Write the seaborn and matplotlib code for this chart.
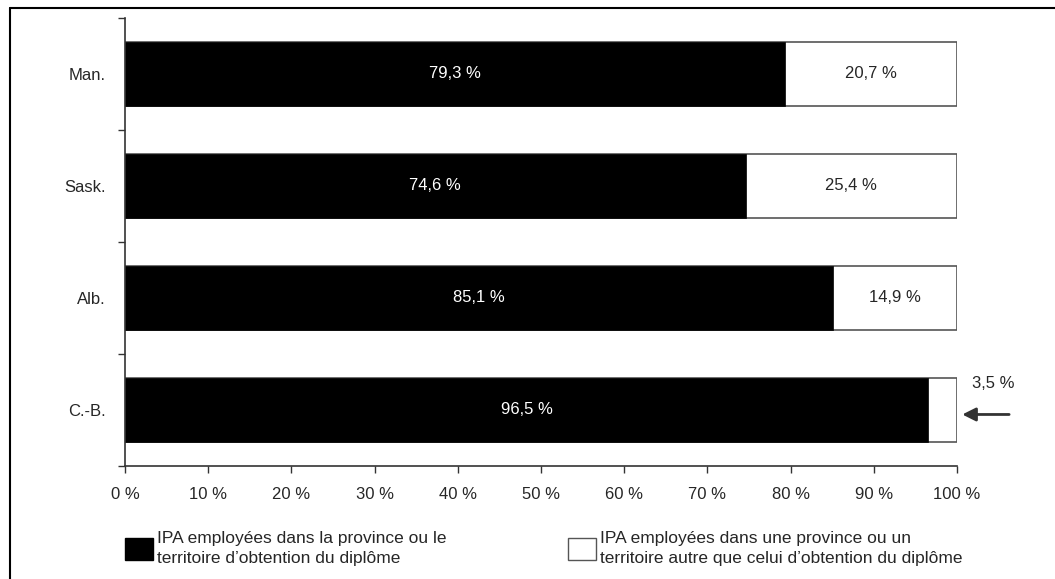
import matplotlib
matplotlib.use("Agg")
import matplotlib.pyplot as plt
import seaborn as sns
import pandas as pd
from matplotlib.patches import Patch
from matplotlib.lines import Line2D

provinces = ["Man.", "Sask.", "Alb.", "C.-B."]
same_province = [79.3, 74.6, 85.1, 96.5]
other_province = [20.7, 25.4, 14.9, 3.5]
xtick_values = [0, 10, 20, 30, 40, 50, 60, 70, 80, 90, 100]
legend_labels = ["IPA employées dans la province ou le\nterritoire d’obtention du diplôme",
                 "IPA employées dans une province ou un\nterritoire autre que celui d’obtention du diplôme"]

def fr(v):
    return f"{v:.1f}".replace(".", ",") + " %"

sns.set_theme(style="white")
plt.rcParams["font.family"] = ["Liberation Sans", "DejaVu Sans"]
plt.rcParams["font.size"] = 12

df = pd.DataFrame({"prov": provinces, "same": same_province, "other": other_province})
df["total"] = df["same"] + df["other"]

fig = plt.figure(figsize=(10.55, 5.79), dpi=100)
ax = fig.add_axes([125/1055, 1-466/579, 832/1055, 448/579])

sns.barplot(data=df, y="prov", x="total", orient="h", color="white", edgecolor="#555555",
            linewidth=1.2, width=0.58, ax=ax, saturation=1)
sns.barplot(data=df, y="prov", x="same", orient="h", color="black", edgecolor="black",
            linewidth=0.5, width=0.58, ax=ax, saturation=1)

txt = "#262626"
for i, (s, o) in enumerate(zip(same_province, other_province)):
    ax.text(s/2, i, fr(s), color="white", ha="center", va="center", fontsize=12)
    if o > 5:
        ax.text(s + o/2, i, fr(o), color=txt, ha="center", va="center", fontsize=12)
    else:
        ax.annotate("", xy=(100.3, i + 0.04), xytext=(106.6, i + 0.04),
                    arrowprops=dict(arrowstyle="-|>", color="#333333", lw=2,
                                    mutation_scale=20), annotation_clip=False)
        ax.text(104.3, i - 0.24, fr(o), color=txt, ha="center", va="center",
                fontsize=12, clip_on=False)

ax.set_xlim(0, 100)
ax.set_ylim(3.5, -0.5)
ax.set_xticks(xtick_values)
ax.set_xticklabels([f"{v} %" for v in xtick_values], fontsize=12, color=txt)
ax.set_xlabel("")
ax.set_ylabel("")
ax.set_yticks(range(len(provinces)))
ax.set_yticklabels(provinces, fontsize=12, color=txt)
ax.set_yticks([-0.5, 0.5, 1.5, 2.5, 3.5], minor=True)
ax.tick_params(axis="y", which="major", left=False, length=0, pad=14)
ax.tick_params(axis="y", which="minor", left=True, length=5, width=1, color="#333333", direction="out")
ax.tick_params(axis="x", which="major", bottom=True, length=5, width=1, color="#333333", direction="out", pad=10)
for side in ["top", "right"]:
    ax.spines[side].set_visible(False)
for side in ["left", "bottom"]:
    ax.spines[side].set_color("#333333")
    ax.spines[side].set_linewidth(1.2)

handles = [Patch(facecolor="black", edgecolor="black"),
           Patch(facecolor="white", edgecolor="#555555")]
leg = ax.legend(handles, legend_labels, loc="upper left", bbox_to_anchor=(0, -0.145),
                ncol=2, frameon=False, fontsize=12.5, handlelength=1.6, handleheight=1.6,
                handletextpad=0.25, columnspacing=7.0, borderaxespad=0, borderpad=0,
                labelspacing=0.2)
for t in leg.get_texts():
    t.set_color(txt)
    t.set_linespacing(1.45)

fig.add_artist(Line2D([10/1055, 1], [1-8/579, 1-8/579], color="black", lw=1.5, transform=fig.transFigure))
fig.add_artist(Line2D([10/1055, 10/1055], [0, 1-8/579], color="black", lw=1.5, transform=fig.transFigure))

fig.savefig("out.png", dpi=100, facecolor="white")
